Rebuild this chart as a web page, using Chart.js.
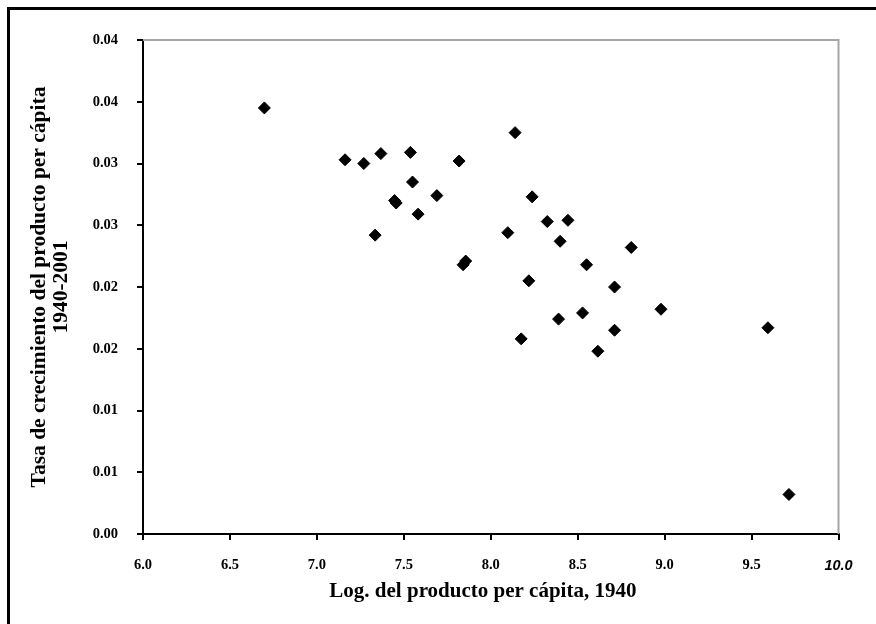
<!DOCTYPE html>
<html>
<head>
<meta charset="utf-8">
<script src="https://cdn.jsdelivr.net/npm/chart.js@4.4.1/dist/chart.umd.min.js"></script>
<style>
  body { margin: 0; background: #fff; }
  #box { width: 876px; height: 624px; }
</style>
</head>
<body>
<div id="box"><canvas id="scatterChrt"></canvas></div>
<script>
// data
const logProducto = [6.698, 8.140, 7.162, 7.270, 7.368, 7.538, 7.818, 7.550, 7.690, 7.447, 7.456, 7.582,
  8.238, 7.335, 8.098, 7.841, 7.856, 8.219, 8.325, 8.444, 8.399, 8.808, 8.551, 8.712, 8.979, 8.390,
  8.528, 8.712, 8.175, 8.616, 9.594, 9.715];
const tasaCrecimiento = [0.0345, 0.0325, 0.0303, 0.0300, 0.0308, 0.0309, 0.0302, 0.0285, 0.0274, 0.0270, 0.0268, 0.0259,
  0.0273, 0.0242, 0.0244, 0.0218, 0.0221, 0.0205, 0.0253, 0.0254, 0.0237, 0.0232, 0.0218, 0.0200, 0.0182, 0.0174,
  0.0179, 0.0165, 0.0158, 0.0148, 0.0167, 0.0032];

const xTickValues = [6.0, 6.5, 7.0, 7.5, 8.0, 8.5, 9.0, 9.5, 10.0];
const xTickLabels = ['6.0', '6.5', '7.0', '7.5', '8.0', '8.5', '9.0', '9.5', '10.0'];
const yTickValues = [0, 0.005, 0.01, 0.015, 0.02, 0.025, 0.03, 0.035, 0.04];
const yTickLabels = ['0.00', '0.01', '0.01', '0.02', '0.02', '0.03', '0.03', '0.04', '0.04'];

const serif = "'Liberation Serif', 'Times New Roman', serif";

// setup
const points = logProducto.map((x, i) => ({x: x, y: tasaCrecimiento[i]}));
const _data = {
  datasets: [{
    data: points,
    pointStyle: 'rectRot',
    pointRadius: 6,
    pointBackgroundColor: '#000',
    pointBorderColor: '#000',
    pointBorderWidth: 1,
    showLine: false
  }]
};

// frame plugin: outer black frame + grey top/right plot border
const FramePlugin = {
  id: 'FramePlugin',
  beforeDatasetsDraw(chart) {
    const {ctx, chartArea: {left, right, top, bottom}} = chart;
    ctx.save();
    ctx.strokeStyle = '#a6a6a6';
    ctx.lineWidth = 2;
    ctx.beginPath();
    ctx.moveTo(left, top);
    ctx.lineTo(right, top);
    ctx.lineTo(right, bottom);
    ctx.stroke();
    ctx.restore();
  },
  afterDraw(chart) {
    const ctx = chart.ctx;
    ctx.save();
    ctx.strokeStyle = '#000';
    ctx.lineWidth = 3;
    ctx.beginPath();
    ctx.moveTo(8.5, chart.height);
    ctx.lineTo(8.5, 8.5);
    ctx.lineTo(chart.width, 8.5);
    ctx.stroke();
    ctx.restore();
  }
};

// config
const _config = {
  type: 'scatter',
  data: _data,
  plugins: [FramePlugin],
  options: {
    responsive: true,
    maintainAspectRatio: false,
    animation: false,
    layout: { padding: { top: 40, right: 37.5, left: 0, bottom: 0 } },
    plugins: {
      legend: { display: false },
      tooltip: { enabled: false }
    },
    scales: {
      x: {
        type: 'linear',
        min: 6,
        max: 10,
        afterFit: (scale) => { scale.height = 90; },
        afterBuildTicks: (scale) => { scale.ticks = xTickValues.map(v => ({value: v})); },
        border: { color: '#000', width: 2 },
        grid: { display: true, drawOnChartArea: false, drawTicks: true, tickLength: 6, color: '#000', lineWidth: 2 },
        ticks: {
          color: '#000',
          padding: 17,
          maxRotation: 0,
          autoSkip: false,
          callback: (val, idx) => xTickLabels[idx],
          font: (c) => c.index === xTickValues.length - 1
            ? { family: "'Liberation Sans', Arial, sans-serif", size: 14.5, weight: 'bold', style: 'italic' }
            : { family: serif, size: 14.5, weight: 'bold' }
        },
        title: {
          display: true,
          // trailing spaces nudge the centred title a little to the left, as in the original
          text: 'Log. del producto per cápita, 1940   ',
          color: '#000',
          font: { family: serif, size: 21, weight: 'bold' },
          padding: { top: 0, bottom: 19.4 }
        }
      },
      y: {
        type: 'linear',
        min: 0,
        max: 0.04,
        afterFit: (scale) => { scale.width = 143; },
        afterBuildTicks: (scale) => { scale.ticks = yTickValues.map(v => ({value: v})); },
        border: { color: '#000', width: 2 },
        grid: { display: true, drawOnChartArea: false, drawTicks: true, tickLength: 6, color: '#000', lineWidth: 2 },
        ticks: {
          color: '#000',
          padding: 19,
          autoSkip: false,
          callback: (val, idx) => yTickLabels[idx],
          font: { family: serif, size: 14.5, weight: 'bold' }
        },
        title: {
          display: true,
          text: ['Tasa de crecimiento del producto per cápita', '1940-2001'],
          color: '#000',
          font: { family: serif, size: 21.5, weight: 'bold', lineHeight: 1.05 },
          padding: { top: 27.7, bottom: 0 }
        }
      }
    }
  }
};

// render
const myChart = new Chart(document.getElementById('scatterChrt'), _config);
</script>
</body>
</html>
